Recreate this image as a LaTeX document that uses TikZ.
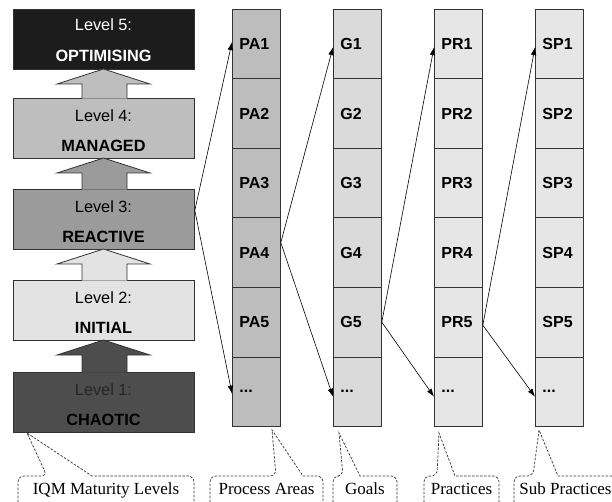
\documentclass[tikz,border=0pt]{standalone}
\usepackage{fontspec}
\setmainfont{Liberation Serif}
\setsansfont{Liberation Sans}
\usetikzlibrary{arrows.meta}
\definecolor{lfive}{HTML}{1C1C1C}
\definecolor{lfour}{HTML}{BEBEBE}
\definecolor{lthree}{HTML}{9B9B9B}
\definecolor{ltwo}{HTML}{E3E3E3}
\definecolor{lone}{HTML}{4D4D4D}
\definecolor{paC}{HTML}{BDBDBD}
\definecolor{gC}{HTML}{DADADA}
\definecolor{prC}{HTML}{E6E6E6}
\definecolor{spC}{HTML}{E6E6E6}
\definecolor{edge}{HTML}{333333}
\begin{document}
\begin{tikzpicture}[x=1pt,y=-1pt,
  lvl/.style={draw=edge, line width=0.8pt, minimum width=181pt, minimum height=60pt, inner sep=0pt, anchor=north west},
  ltxt/.style={font=\sffamily\fontsize{16.3}{18}\selectfont, anchor=base},
  btxt/.style={font=\sffamily\bfseries\fontsize{16.3}{18}\selectfont, anchor=base},
  cell/.style={draw=edge, line width=0.8pt, minimum width=48pt, minimum height=69.5pt, text width=34pt, inner xsep=7pt, inner ysep=0pt, align=left, anchor=north west, font=\sffamily\bfseries\fontsize{16}{18}\selectfont},
  conn/.style={line width=0.6pt, -{Latex[length=8pt,width=5.5pt]}},
  callout/.style={draw=edge, line width=0.7pt, dash pattern=on 2.5pt off 1.5pt},
  ctxt/.style={font=\fontsize{17}{20}\selectfont, anchor=base},
  blockarrow/.style={draw=edge, line width=0.8pt}
]
\path[use as bounding box] (0,0) rectangle (612,502);
\clip (0,0) rectangle (612,502);

% maturity level boxes
\node[lvl, fill=lfive]  (L5) at (13,9)   {};
\node[lvl, fill=lfour]  (L4) at (13,98)  {};
\node[lvl, fill=lthree] (L3) at (13,189) {};
\node[lvl, fill=ltwo]   (L2) at (13,280) {};
\node[lvl, fill=lone]   (L1) at (13,372) {};

% block arrows (colour of the level below)
\foreach \yb/\yt/\c in {69/98/lfour, 158/189/lthree, 249/280/ltwo, 340/372/lone}{
  \fill[\c] (82,\yt+0.7) -- (82,\yb+15) -- (57,\yb+15) -- (103.5,\yb) -- (150,\yb+15) -- (127,\yb+15) -- (127,\yt+0.7) -- cycle;
  \draw[blockarrow] (82,\yt) -- (82,\yb+15) -- (57,\yb+15) -- (103.5,\yb) -- (150,\yb+15) -- (127,\yb+15) -- (127,\yt);
}

% level texts
\node[ltxt, text=white] (t5a) at (103.5,31)  {Level 5:};
\node[btxt, text=white] (t5b) at (103.5,62)  {OPTIMISING};
\node[ltxt] (t4a) at (103.5,122) {Level 4:};
\node[btxt] (t4b) at (103.5,152) {MANAGED};
\node[ltxt] (t3a) at (103.5,213) {Level 3:};
\node[btxt] (t3b) at (103.5,243) {REACTIVE};
\node[ltxt] (t2a) at (103.5,303) {Level 2:};
\node[btxt] (t2b) at (103.5,333) {INITIAL};
\node[ltxt, text=black!85] (t1a) at (103.5,395) {Level 1:};
\node[btxt] (t1b) at (103.5,425) {CHAOTIC};

% columns
\foreach \col/\x/\c in {PA/232/paC, G/333/gC, PR/434/prC, SP/535/spC}{
  \foreach \i in {1,...,5}{
    \node[cell, fill=\c] (\col\i) at (\x,{9+69.5*(\i-1)}) {\col\i};
  }
  \node[cell, fill=\c] (\col6) at (\x,356.5) {...};
}

% connectors
\draw[conn] ([yshift=9pt]L3.east) -- ([yshift=2pt]PA1.west);
\draw[conn] ([yshift=9pt]L3.east) -- ([yshift=-2pt]PA6.west);
\draw[conn] ([yshift=10pt]PA4.east) -- ([yshift=-3pt]G1.west);
\draw[conn] ([yshift=10pt]PA4.east) -- ([yshift=-5pt]G6.west);
\draw[conn] (G5.east) -- ([yshift=-3pt]PR1.west);
\draw[conn] (G5.east) -- ([yshift=-5pt]PR6.west);
\draw[conn] ([yshift=-3pt]PR5.east) -- ([yshift=-3pt]SP1.west);
\draw[conn] ([yshift=-3pt]PR5.east) -- ([yshift=-5pt]SP6.west);

% callouts
\draw[callout] (18,530) [rounded corners=6pt] -- (18,476) -- (47,476) [sharp corners] -- (27,433) -- (92,476) [rounded corners=6pt] -- (194,476) -- (194,530);
\draw[callout] (210,530) [rounded corners=6pt] -- (210,476) -- (276,476) [sharp corners] -- (272,430) -- (303,476) [rounded corners=6pt] -- (323,476) -- (323,530);
\draw[callout] (333,530) [rounded corners=6pt] -- (333,476) -- (343,476) [sharp corners] -- (339,433) -- (360,476) [rounded corners=6pt] -- (397,476) -- (397,530);
\draw[callout] (424,530) [rounded corners=6pt] -- (424,476) -- (437,476) [sharp corners] -- (439,433) -- (455,476) [rounded corners=6pt] -- (499,476) -- (499,530);
\draw[callout] (514,530) [rounded corners=6pt] -- (514,476) -- (533,476) [sharp corners] -- (539,430) -- (558,476) [rounded corners=6pt] -- (617,476) -- (617,530);

\node[ctxt] (cIQM) at (106,494)   {IQM Maturity Levels};
\node[ctxt] (cPA)  at (266.5,494) {Process Areas};
\node[ctxt] (cG)   at (365,494)   {Goals};
\node[ctxt] (cPR)  at (461.5,494) {Practices};
\node[ctxt] (cSP)  at (565.5,494) {Sub Practices};
\end{tikzpicture}
\end{document}
